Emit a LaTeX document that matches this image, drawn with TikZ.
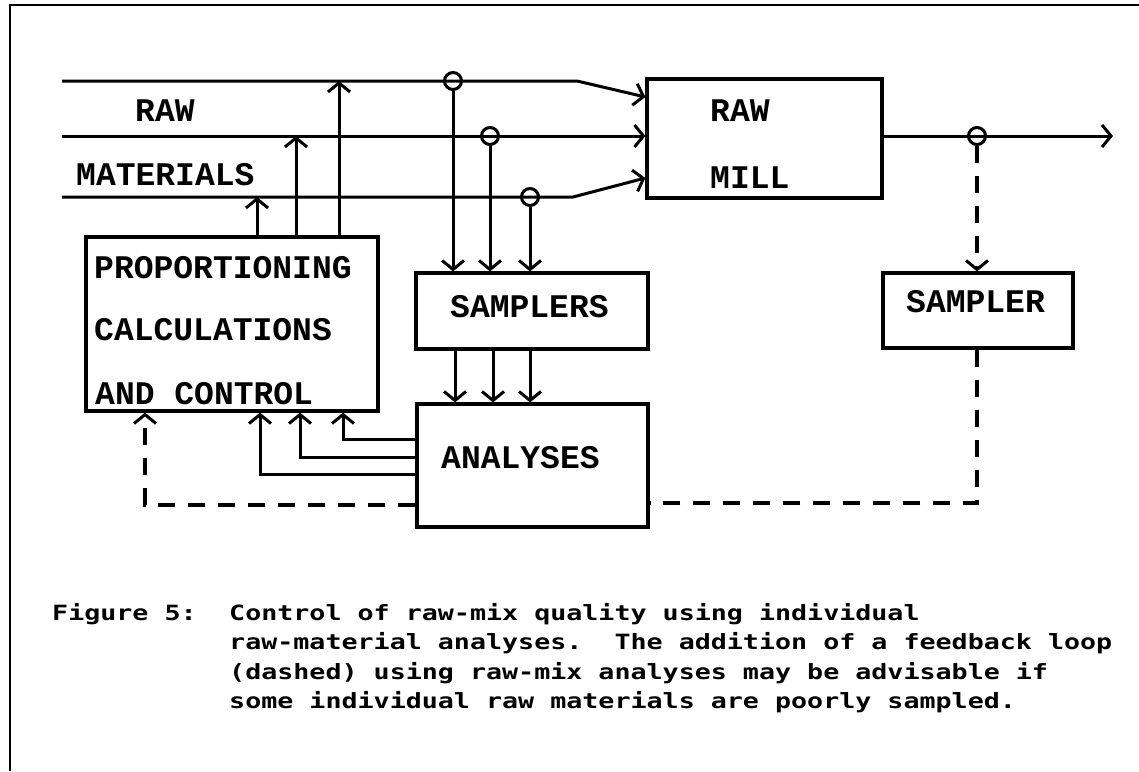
\documentclass[tikz,border=0pt]{standalone}
\usepackage{fontspec}
\newfontfamily\boxfont{Liberation Mono}
\newfontfamily\capfont[FakeStretch=1.27]{DejaVu Sans Mono}
\usetikzlibrary{arrows.meta}
\tikzset{
  ln/.style={line width=3pt},
  arr/.style={-{Straight Barb[length=9pt,width=22pt,line width=3pt]}},
  box/.style={draw, rectangle, line width=3.2pt, inner sep=0pt},
  lbl/.style={font=\boxfont\bfseries\fontsize{33}{33}\selectfont, anchor=base west, inner sep=0pt},
  captxt/.style={font=\capfont\bfseries\fontsize{21}{21}\selectfont, anchor=base west, inner sep=0pt},
  tap/.style={circle, draw, line width=3pt, minimum size=17pt, inner sep=0pt},
  dl/.style={line width=3.8pt, dash pattern=on 17pt off 13pt},
}
\begin{document}
\begin{tikzpicture}[x=1pt,y=-1pt]
\useasboundingbox (0,0) rectangle (1139,771);
% frame
\coordinate (fa) at (10,771);
\coordinate (fb) at (10,5);
\coordinate (fc) at (1139,5);
\draw[line width=2pt] (fa) -- (fb) -- (fc);

% boxes
\node[box, minimum width=292pt, minimum height=174pt] (prop) at (232,324) {};
\node[box, minimum width=232pt, minimum height=76pt] (samp) at (532,311) {};
\node[box, minimum width=231pt, minimum height=123pt] (anal) at (532.5,465.5) {};
\node[box, minimum width=235pt, minimum height=119pt] (mill) at (764.5,138.5) {};
\node[box, minimum width=190pt, minimum height=75pt] (samp2) at (978,310.5) {};

% labels
\node[lbl] (lraw) at (135,121) {RAW};
\node[lbl] (lmat) at (76,185) {MATERIALS};
\node[lbl] (lmraw) at (710,121) {RAW};
\node[lbl] (lmill) at (710,188) {MILL};
\node[lbl] (lp1) at (94,278) {PROPORTIONING};
\node[lbl] (lp2) at (94,340) {CALCULATIONS};
\node[lbl] (lp3) at (95,404) {AND CONTROL};
\node[lbl] (lsamp) at (450,317) {SAMPLERS};
\node[lbl] (lsamp2) at (906,312) {SAMPLER};
\node[lbl] (lanal) at (441,468) {ANALYSES};

% raw material lines
\coordinate (in1) at (62,81);
\coordinate (in2) at (62,136);
\coordinate (in3) at (62,197);
\coordinate (b1) at (577,81);
\coordinate (b3) at (573,197);
\coordinate (m1) at (0,97);
\coordinate (m3) at (0,178);
\draw[ln,arr] (in1) -- (b1) -- (mill.west |- m1);
\draw[ln,arr] (in2) -- (mill.west |- in2);
\draw[ln,arr] (in3) -- (b3) -- (mill.west |- m3);

% taps
\node[tap] (t1) at (453,81) {};
\node[tap] (t2) at (490,136) {};
\node[tap] (t3) at (530,197) {};
\draw[ln,arr] (t1.south) -- (samp.north -| t1);
\draw[ln,arr] (t2.south) -- (samp.north -| t2);
\draw[ln,arr] (t3.south) -- (samp.north -| t3);

% samplers -> analyses
\coordinate (s1) at (455,0);
\coordinate (s2) at (493,0);
\coordinate (s3) at (530,0);
\draw[ln,arr] (samp.south -| s1) -- (anal.north -| s1);
\draw[ln,arr] (samp.south -| s2) -- (anal.north -| s2);
\draw[ln,arr] (samp.south -| s3) -- (anal.north -| s3);

% proportioning -> raw material lines
\coordinate (u1) at (257,0);
\coordinate (u2) at (296,0);
\coordinate (u3) at (339,0);
\draw[ln,arr] (prop.north -| u1) -- (in3 -| u1);
\draw[ln,arr] (prop.north -| u2) -- (in2 -| u2);
\draw[ln,arr] (prop.north -| u3) -- (in1 -| u3);

% analyses -> proportioning
\coordinate (f1) at (343,439);
\coordinate (f2) at (300,457);
\coordinate (f3) at (260,474);
\draw[ln,arr] (anal.west |- f1) -| (prop.south -| f1);
\draw[ln,arr] (anal.west |- f2) -| (prop.south -| f2);
\draw[ln,arr] (anal.west |- f3) -| (prop.south -| f3);

% mill output
\coordinate (out) at (1113,136);
\draw[ln,arr] (mill.east |- out) -- (out);
\node[tap] (t4) at (977,136) {};
\draw[dl,arr] (t4.south) -- (samp2.north -| t4);

% dashed feedback
\coordinate (d1) at (977,503);
\coordinate (d2) at (145,505);
\draw[dl] (samp2.south -| d1) -- (d1) -- (anal.east |- d1);
\draw[dl,arr] (anal.west |- d2) -| (prop.south -| d2);

% caption
\node[captxt] (c0) at (52,620) {Figure 5:};
\node[captxt] (c1) at (229,620) {Control of raw-mix quality using individual};
\node[captxt] (c2) at (229,649.5) {raw-material analyses.\ \ The addition of a feedback loop};
\node[captxt] (c3) at (229,679) {(dashed) using raw-mix analyses may be advisable if};
\node[captxt] (c4) at (229,708.5) {some individual raw materials are poorly sampled.};
\end{tikzpicture}
\end{document}
